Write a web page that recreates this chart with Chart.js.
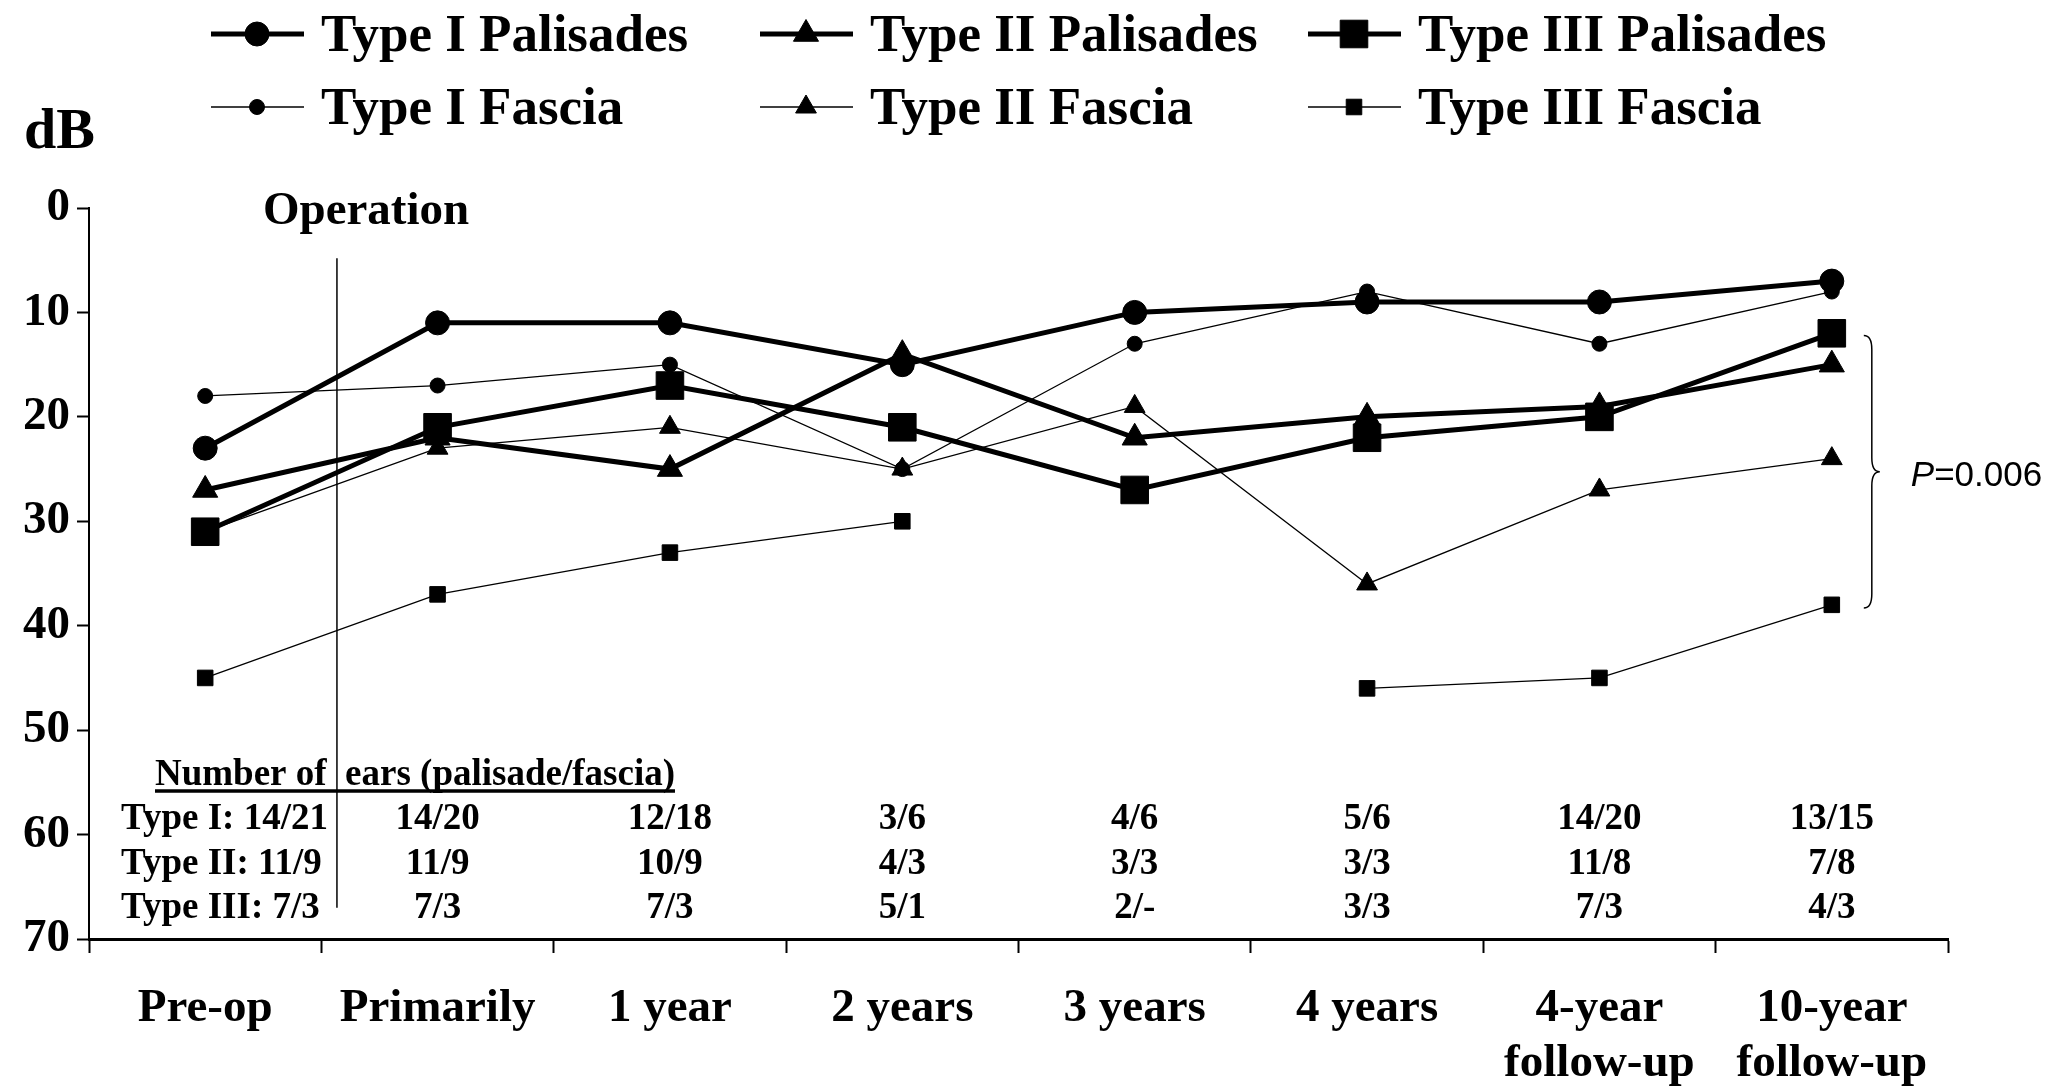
<!DOCTYPE html>
<html>
<head>
<meta charset="utf-8">
<script src="https://cdn.jsdelivr.net/npm/chart.js@4/dist/chart.umd.min.js"></script>
<style>
  html, body { margin: 0; padding: 0; background: #fff; overflow: hidden; }
</style>
</head>
<body>
<canvas id="myChart" width="2051" height="1089"></canvas>
<script>
// categories on the x axis
const categories = [["Pre-op"], ["Primarily"], ["1 year"], ["2 years"], ["3 years"], ["4 years"], ["4-year", "follow-up"], ["10-year", "follow-up"]];

// hearing level (dB)
const type1Palisades = [23, 11, 11, 15, 10, 9, 9, 7];
const type2Palisades = [27, 22, 25, 14, 22, 20, 19, 15];
const type3Palisades = [31, 21, 17, 21, 27, 22, 20, 12];
const type1Fascia = [18, 17, 15, 25, 13, 8, 13, 8];
const type2Fascia = [31, 23, 21, 25, 19, 36, 27, 24];
const type3Fascia = [45, 37, 33, 30, null, 46, 45, 38];

// number of ears table (palisade/fascia)
const earsHeader = "Number of  ears (palisade/fascia)";
const earsRowLabels = ["Type I: 14/21", "Type II: 11/9", "Type III: 7/3"];
const earsType1 = ["14/20", "12/18", "3/6", "4/6", "5/6", "14/20", "13/15"];
const earsType2 = ["11/9", "10/9", "4/3", "3/3", "3/3", "11/8", "7/8"];
const earsType3 = ["7/3", "7/3", "5/1", "2/-", "3/3", "7/3", "4/3"];

const pText = "=0.006";
const OPERATION_AT = 0.567; // between Pre-op and Primarily

const SERIF = '"Liberation Serif", "Times New Roman", serif';
const legendX = [211, 760, 1308];

function series(label, data, style, radius, width) {
    return {
        label: label,
        data: data,
        borderColor: "#000",
        backgroundColor: "#000",
        borderWidth: width,
        pointStyle: style,
        pointRadius: radius,
        pointBackgroundColor: "#000",
        pointBorderColor: "#000",
        pointBorderWidth: 1,
        tension: 0,
        spanGaps: false,
    };
}

const overlay = {
    id: "overlay",
    afterDraw(chart) {
        const ctx = chart.ctx;
        const x = chart.scales.x;
        const y = chart.scales.y;
        const area = chart.chartArea;
        const step = x.getPixelForValue(1) - x.getPixelForValue(0);
        ctx.save();
        ctx.fillStyle = "#000";
        ctx.strokeStyle = "#000";
        ctx.textAlign = "left";
        ctx.textBaseline = "alphabetic";

        // dB
        ctx.font = "bold 58px " + SERIF;
        ctx.fillText("dB", 24, 148);

        // legend (2 rows x 3 cols)
        chart.data.datasets.forEach((ds, i) => {
            const lx = legendX[i % 3];
            const ly = 34 + Math.floor(i / 3) * 73;
            ctx.lineWidth = ds.borderWidth;
            ctx.beginPath();
            ctx.moveTo(lx, ly);
            ctx.lineTo(lx + 93, ly);
            ctx.stroke();
            ctx.lineWidth = 1;
            Chart.helpers.drawPoint(ctx, { pointStyle: ds.pointStyle, radius: ds.pointRadius, borderWidth: 1, rotation: 0 }, lx + 46, ly);
            ctx.font = "bold 53px " + SERIF;
            ctx.fillText(ds.label, lx + 110, ly + 17);
        });

        // Operation line
        const opX = x.getPixelForValue(0) + OPERATION_AT * step;
        ctx.lineWidth = 1.5;
        ctx.beginPath();
        ctx.moveTo(opX, y.getPixelForValue(4.8));
        ctx.lineTo(opX, y.getPixelForValue(67));
        ctx.stroke();
        ctx.font = "bold 47px " + SERIF;
        ctx.fillText("Operation", opX - 74, 224);

        // ears table
        ctx.font = "bold 37px " + SERIF;
        const hy = area.bottom - 154;
        ctx.fillText(earsHeader, 155, hy);
        const hw = ctx.measureText(earsHeader).width;
        ctx.lineWidth = 3.5;
        ctx.beginPath();
        ctx.moveTo(155, hy + 6);
        ctx.lineTo(155 + hw, hy + 6);
        ctx.stroke();
        const rows = [earsType1, earsType2, earsType3];
        const rowY = [area.bottom - 110, area.bottom - 65, area.bottom - 21];
        rows.forEach((vals, r) => {
            ctx.textAlign = "left";
            ctx.fillText(earsRowLabels[r], 121, rowY[r]);
            ctx.textAlign = "center";
            vals.forEach((v, j) => {
                ctx.fillText(v, x.getPixelForValue(j + 1), rowY[r]);
            });
        });
        ctx.textAlign = "left";

        // brace + P value
        const bx = x.getPixelForValue(7) + 32;
        const top = y.getPixelForValue(12.2);
        const bot = y.getPixelForValue(38.3);
        const mid = (top + bot) / 2;
        ctx.lineWidth = 1.5;
        ctx.beginPath();
        ctx.moveTo(bx, top);
        ctx.quadraticCurveTo(bx + 8, top, bx + 8, top + 14);
        ctx.lineTo(bx + 8, mid - 14);
        ctx.quadraticCurveTo(bx + 8, mid, bx + 16, mid);
        ctx.quadraticCurveTo(bx + 8, mid, bx + 8, mid + 14);
        ctx.lineTo(bx + 8, bot - 14);
        ctx.quadraticCurveTo(bx + 8, bot, bx, bot);
        ctx.stroke();
        ctx.font = 'italic 35px "Liberation Sans", Arial, sans-serif';
        ctx.fillText("P", bx + 47, mid + 14);
        const pw = ctx.measureText("P").width;
        ctx.font = '35px "Liberation Sans", Arial, sans-serif';
        ctx.fillText(pText, bx + 47 + pw, mid + 14);

        ctx.restore();
    },
};

const ctx = document.getElementById("myChart").getContext("2d");
const myChart = new Chart(ctx, {
    type: "line",
    data: {
        labels: categories,
        datasets: [
            series("Type I Palisades", type1Palisades, "circle", 12, 5),
            series("Type II Palisades", type2Palisades, "triangle", 14.5, 5),
            series("Type III Palisades", type3Palisades, "rect", 19.5, 5),
            series("Type I Fascia", type1Fascia, "circle", 7.5, 1.3),
            series("Type II Fascia", type2Fascia, "triangle", 12, 1.3),
            series("Type III Fascia", type3Fascia, "rect", 11, 1.3),
        ],
    },
    options: {
        responsive: false,
        animation: false,
        devicePixelRatio: 1,
        layout: { padding: { top: 208, right: 103, left: 0, bottom: 0 } },
        plugins: { legend: { display: false }, tooltip: { enabled: false } },
        scales: {
            x: {
                offset: true,
                grid: { offset: true, drawOnChartArea: false, tickLength: 14, tickWidth: 2, tickColor: "#000" },
                border: { color: "#000", width: 3 },
                ticks: {
                    color: "#000",
                    font: { family: SERIF, size: 47, weight: "bold", lineHeight: 1.17 },
                    padding: 28,
                    maxRotation: 0,
                    autoSkip: false,
                },
                afterFit(scale) { scale.height = 150; },
            },
            y: {
                reverse: true,
                min: 0,
                max: 70,
                ticks: {
                    stepSize: 10,
                    color: "#000",
                    font: { family: SERIF, size: 47, weight: "bold" },
                    padding: 7,
                },
                grid: { drawOnChartArea: false, tickLength: 12, tickWidth: 2, tickColor: "#000" },
                border: { color: "#000", width: 2 },
                afterFit(scale) { scale.width = 89; },
            },
        },
    },
    plugins: [overlay],
});
</script>
</body>
</html>
